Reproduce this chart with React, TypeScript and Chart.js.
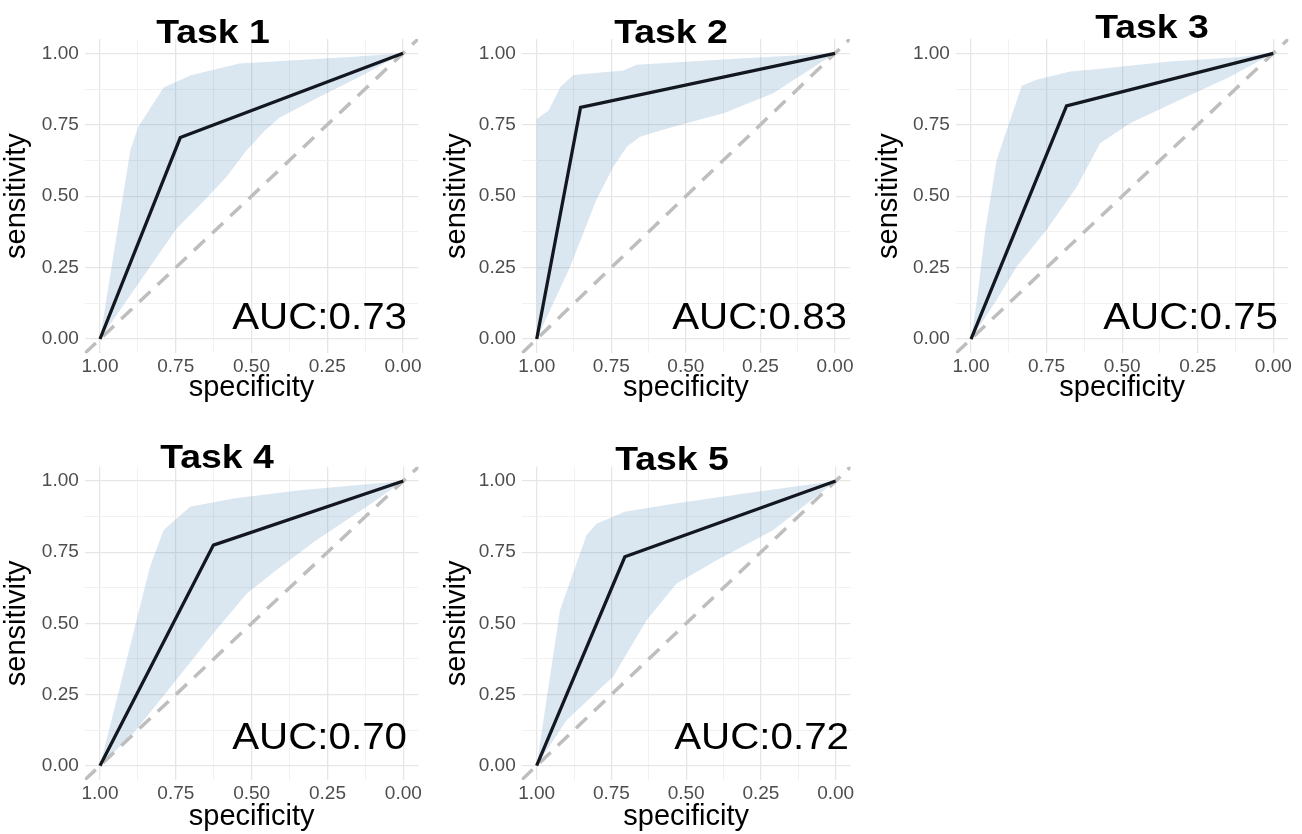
import React, { useEffect, useRef } from "react";
import { Chart, registerables } from "chart.js";

Chart.register(...registerables);

// ---------------- data ----------------
const TASK_TITLES = ["Task 1", "Task 2", "Task 3", "Task 4", "Task 5"];
const AUC_VALUES = [0.73, 0.83, 0.75, 0.7, 0.72];

// ROC curve (specificity, sensitivity)
const ROC_SPEC = [
  [1, 0.735, 0],
  [1, 0.853, 0],
  [1, 0.684, 0],
  [1, 0.626, 0],
  [1, 0.705, 0],
];
const ROC_SENS = [
  [0, 0.705, 1],
  [0, 0.811, 1],
  [0, 0.816, 1],
  [0, 0.775, 1],
  [0, 0.734, 1],
];

// confidence band, upper edge
const CI_UPPER_SPEC = [
  [1, 0.9, 0.874, 0.79, 0.7, 0.54, 0.175, 0],
  [1, 1, 0.96, 0.92, 0.877, 0.71, 0.665, 0.318, 0],
  [1, 0.98, 0.954, 0.915, 0.832, 0.783, 0.672, 0.562, 0.342, 0.121, 0],
  [1, 0.934, 0.879, 0.835, 0.79, 0.703, 0.56, 0.34, 0],
  [1, 0.96, 0.922, 0.833, 0.8, 0.705, 0.543, 0.264, 0],
];
const CI_UPPER_SENS = [
  [0, 0.66, 0.742, 0.88, 0.923, 0.964, 0.987, 1],
  [0, 0.77, 0.8, 0.883, 0.924, 0.94, 0.96, 0.982, 1],
  [0, 0.137, 0.37, 0.627, 0.886, 0.907, 0.936, 0.947, 0.971, 0.986, 1],
  [0, 0.278, 0.512, 0.699, 0.828, 0.91, 0.939, 0.968, 1],
  [0, 0.28, 0.546, 0.81, 0.85, 0.892, 0.92, 0.962, 1],
];

// confidence band, lower edge
const CI_LOWER_SPEC = [
  [1, 0.835, 0.747, 0.66, 0.582, 0.52, 0.46, 0.407, 0.275, 0.143, 0],
  [1, 0.888, 0.8, 0.743, 0.698, 0.654, 0.542, 0.374, 0.207, 0],
  [1, 0.915, 0.849, 0.75, 0.65, 0.573, 0.474, 0.287, 0.143, 0],
  [1, 0.89, 0.758, 0.626, 0.516, 0.418, 0.286, 0.121, 0],
  [1, 0.9, 0.744, 0.632, 0.532, 0.398, 0.208, 0],
];
const CI_LOWER_SENS = [
  [0, 0.253, 0.387, 0.48, 0.568, 0.655, 0.725, 0.775, 0.848, 0.918, 1],
  [0, 0.253, 0.487, 0.603, 0.673, 0.708, 0.743, 0.79, 0.86, 1],
  [0, 0.137, 0.253, 0.382, 0.533, 0.685, 0.755, 0.848, 0.918, 1],
  [0, 0.114, 0.289, 0.465, 0.605, 0.687, 0.793, 0.91, 1],
  [0, 0.16, 0.313, 0.512, 0.64, 0.722, 0.828, 1],
];

const AXIS_MIN = -0.05;
const AXIS_MAX = 1.05;
const MINOR_STEP = 0.125;
const X_TITLE = "specificity";
const Y_TITLE = "sensitivity";

// ---------------- layout (page pixels) ----------------
const PANELS = [
  { left: 0, top: 0, width: 435, height: 415, pl: 84.85, pr: 418.15, pt: 39, pb: 353.3, titleX: 213, titleY: 43, aucX: 407, aucY: 328.5, xTitlePad: 10, yTitlePad: 0 },
  { left: 440, top: 0, width: 430, height: 415, pl: 521.8, pr: 849.9, pt: 39, pb: 353.3, titleX: 671, titleY: 43, aucX: 847, aucY: 328.5, xTitlePad: 10, yTitlePad: 0 },
  { left: 870, top: 0, width: 432, height: 415, pl: 955.9, pr: 1288.4, pt: 39, pb: 353.3, titleX: 1152, titleY: 38, aucX: 1278, aucY: 328.5, xTitlePad: 10, yTitlePad: 2 },
  { left: 0, top: 415, width: 435, height: 419, pl: 84.8, pr: 418.5, pt: 466.8, pb: 779.9, titleX: 217, titleY: 468, aucX: 407, aucY: 748.5, xTitlePad: 0, yTitlePad: 0 },
  { left: 440, top: 415, width: 430, height: 419, pl: 521.7, pr: 850.6, pt: 466.8, pb: 779.9, titleX: 672, titleY: 470, aucX: 849, aucY: 748.5, xTitlePad: 0, yTitlePad: 0 },
];

const FONT = '"Liberation Sans", Arial, Helvetica, sans-serif';
Chart.defaults.font.family = FONT;

const isMajor = (v: number) => Math.abs(v * 4 - Math.round(v * 4)) < 1e-6;

const panelTextPlugin = {
  id: "panelText",
  afterDraw(chart: any, _args: any, opts: any) {
    const ctx = chart.ctx;
    ctx.save();
    ctx.fillStyle = "#000000";
    ctx.textBaseline = "alphabetic";
    ctx.font = `bold 34px ${FONT}`;
    ctx.textAlign = "center";
    ctx.translate(opts.titleX, opts.titleY);
    ctx.scale(1.1, 1);
    ctx.fillText(opts.title, 0, 0);
    ctx.restore();

    ctx.save();
    ctx.fillStyle = "#000000";
    ctx.textBaseline = "alphabetic";
    ctx.font = `36px ${FONT}`;
    ctx.textAlign = "right";
    ctx.translate(opts.aucX, opts.aucY);
    ctx.scale(1.12, 1);
    ctx.fillText(opts.auc, 0, 0);
    ctx.restore();
  },
};

function gridOpts() {
  return {
    drawTicks: false,
    color: (c: any) => (c.tick && isMajor(c.tick.value) ? "#e6e6e6" : "#efefef"),
    lineWidth: (c: any) => (c.tick && isMajor(c.tick.value) ? 1.3 : 0.9),
  };
}

function tickOpts(pad: number) {
  return {
    stepSize: MINOR_STEP,
    includeBounds: false,
    autoSkip: false,
    maxRotation: 0,
    minRotation: 0,
    padding: pad,
    color: "#4d4d4d",
    font: { size: 19, family: FONT },
    callback: (v: any) => (isMajor(Number(v)) ? Number(v).toFixed(2) : ""),
  };
}

function RocPanel({ idx }: { idx: number }) {
  const ref = useRef<HTMLCanvasElement | null>(null);
  const p = PANELS[idx];

  useEffect(() => {
    if (!ref.current) return;
    const roc = ROC_SPEC[idx].map((s, i) => ({ x: s, y: ROC_SENS[idx][i] }));
    const upper = CI_UPPER_SPEC[idx].map((s, i) => ({ x: s, y: CI_UPPER_SENS[idx][i] }));
    const lower = CI_LOWER_SPEC[idx].map((s, i) => ({ x: s, y: CI_LOWER_SENS[idx][i] }));
    const band = [...upper, ...lower.slice().reverse()];
    // chance line: sensitivity = 1 - specificity, across the whole panel
    const diag = [
      { x: AXIS_MAX, y: 1 - AXIS_MAX },
      { x: AXIS_MIN, y: 1 - AXIS_MIN },
    ];

    const xHeight = p.top + p.height - p.pb;
    const yWidth = p.pl - p.left;

    const chart = new Chart(ref.current, {
      type: "line",
      data: {
        datasets: [
          {
            label: "roc",
            data: roc,
            borderColor: "#131820",
            borderWidth: 3.3,
            pointRadius: 0,
            tension: 0,
            fill: false,
          },
          {
            label: "diag",
            data: diag,
            borderColor: "#bebebe",
            borderWidth: 3.5,
            borderDash: [15, 10],
            pointRadius: 0,
            tension: 0,
            fill: false,
          },
          {
            label: "ci",
            data: band,
            borderWidth: 0,
            borderColor: "rgba(0,0,0,0)",
            backgroundColor: "rgba(70,130,180,0.2)",
            pointRadius: 0,
            tension: 0,
            fill: "shape",
          },
        ],
      } as any,
      options: {
        responsive: false,
        animation: false,
        events: [],
        layout: {
          autoPadding: false,
          padding: {
            left: 0,
            top: p.pt - p.top,
            right: p.left + p.width - p.pr,
            bottom: 0,
          },
        },
        plugins: {
          legend: { display: false },
          tooltip: { enabled: false },
          title: { display: false },
          panelText: {
            title: TASK_TITLES[idx],
            auc: `AUC:${AUC_VALUES[idx].toFixed(2)}`,
            titleX: p.titleX - p.left,
            titleY: p.titleY - p.top,
            aucX: p.aucX - p.left,
            aucY: p.aucY - p.top,
          },
        } as any,
        scales: {
          x: {
            type: "linear",
            reverse: true,
            min: AXIS_MIN,
            max: AXIS_MAX,
            border: { display: false },
            grid: gridOpts() as any,
            ticks: tickOpts(2) as any,
            afterFit: (s: any) => {
              s.height = xHeight;
            },
            title: {
              display: true,
              text: X_TITLE,
              color: "#000000",
              font: { size: 29, family: FONT },
              padding: { top: 0, bottom: p.xTitlePad },
            },
          },
          y: {
            type: "linear",
            min: AXIS_MIN,
            max: AXIS_MAX,
            border: { display: false },
            grid: gridOpts() as any,
            ticks: tickOpts(6) as any,
            afterFit: (s: any) => {
              s.width = yWidth;
            },
            title: {
              display: true,
              text: Y_TITLE,
              color: "#000000",
              font: { size: 29, family: FONT },
              padding: { top: p.yTitlePad, bottom: 0 },
            },
          },
        },
      } as any,
      plugins: [panelTextPlugin as any],
    });
    return () => chart.destroy();
  }, [idx]);

  return (
    <canvas
      ref={ref}
      width={p.width}
      height={p.height}
      style={{
        position: "absolute",
        left: p.left,
        top: p.top,
        width: p.width,
        height: p.height,
        display: "block",
      }}
    />
  );
}

export default function App() {
  return (
    <div
      style={{
        position: "absolute",
        left: 0,
        top: 0,
        width: 1302,
        height: 834,
        background: "#ffffff",
        overflow: "hidden",
      }}
    >
      {TASK_TITLES.map((_, i) => (
        <RocPanel key={i} idx={i} />
      ))}
    </div>
  );
}
